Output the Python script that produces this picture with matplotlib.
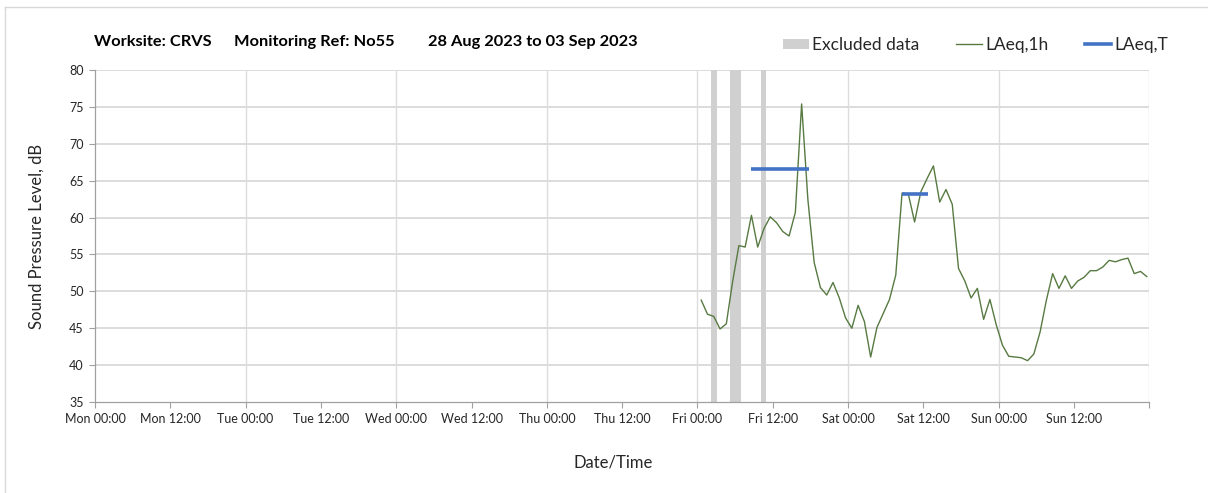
import matplotlib
matplotlib.use("Agg")
import matplotlib.pyplot as plt
from matplotlib.lines import Line2D
from matplotlib.patches import Patch

plt.rcParams['font.family'] = ['Lato', 'DejaVu Sans']

# ---- data ----
start_hour = 96.6  # hours after Mon 00:00 of first hourly value
laeq_1h = [48.8, 46.9, 46.6, 44.9, 45.6, 51.3, 56.2, 56.0, 60.3, 56.0,
           58.5, 60.1, 59.3, 58.1, 57.5, 60.7, 75.4, 62.4, 53.9, 50.5,
           49.5, 51.2, 49.1, 46.4, 45.0, 48.1, 45.9, 41.1, 45.1, 47.0,
           48.9, 52.2, 63.3, 63.2, 59.4, 63.5, 65.3, 67.0, 62.1, 63.8,
           61.8, 53.1, 51.4, 49.1, 50.4, 46.2, 48.9, 45.5, 42.7, 41.2,
           41.1, 41.0, 40.6, 41.5, 44.5, 48.8, 52.4, 50.4, 52.1, 50.4,
           51.4, 51.9, 52.8, 52.8, 53.3, 54.2, 54.0, 54.3, 54.5, 52.4,
           52.7, 52.0]
hours = [start_hour + i for i in range(len(laeq_1h))]

excl_start = [98.1, 101.2, 106.1]
excl_end = [99.1, 103.0, 107.0]

laeqT_start = [104.5, 128.6]
laeqT_end = [113.7, 132.7]
laeqT_val = [66.6, 63.2]

tick_hours = list(range(0, 169, 12))
tick_labels = ['Mon 00:00', 'Mon 12:00', 'Tue 00:00', 'Tue 12:00', 'Wed 00:00',
               'Wed 12:00', 'Thu 00:00', 'Thu 12:00', 'Fri 00:00', 'Fri 12:00',
               'Sat 00:00', 'Sat 12:00', 'Sun 00:00', 'Sun 12:00', '']
day_grid = list(range(24, 169, 24))
y_ticks = [35, 40, 45, 50, 55, 60, 65, 70, 75, 80]

title_parts = ['Worksite: CRVS', 'Monitoring Ref: No55', '28 Aug 2023 to 03 Sep 2023']

# ---- figure ----
W, H = 1208, 493
fig = plt.figure(figsize=(W / 100, H / 100), dpi=100)
ax = fig.add_axes([95 / W, 1 - 402 / H, (1149.3 - 95) / W, 332 / H])

green = '#577a42'
blue = '#4472c4'
grey_bar = '#d0d0d0'

for s, e in zip(excl_start, excl_end):
    ax.axvspan(s, e, color=grey_bar, lw=0, zorder=1)

for y in y_ticks[1:]:
    ax.axhline(y, color='#d9d9d9', lw=1.3, zorder=0)
for x in day_grid:
    ax.axvline(x, color='#dcdcdc', lw=1.0, zorder=0)

ax.plot(hours, laeq_1h, color=green, lw=1.0, zorder=3)
for s, e, v in zip(laeqT_start, laeqT_end, laeqT_val):
    ax.plot([s, e], [v, v], color=blue, lw=2.6, zorder=4, solid_capstyle='butt')

ax.set_xlim(0, 168)
ax.set_ylim(35, 80)
ax.set_xticks(tick_hours)
ax.set_xticklabels(tick_labels, fontsize=9, color='#262626')
ax.set_yticks(y_ticks)
ax.set_yticklabels([str(v) for v in y_ticks], fontsize=9, color='#262626')
ax.tick_params(axis='both', direction='out', length=4, width=0.8, color='#a0a0a0', pad=4)
for sp in ['top', 'right']:
    ax.spines[sp].set_visible(False)
for sp in ['left', 'bottom']:
    ax.spines[sp].set_color('#a0a0a0')
    ax.spines[sp].set_linewidth(0.9)

ax.set_ylabel('Sound Pressure Level, dB', fontsize=12, color='#262626', labelpad=18)
fig.text(613 / W, 1 - 462 / H, 'Date/Time', fontsize=12, color='#262626',
         ha='center', va='center')

for xp, txt in zip([94, 234, 428], title_parts):
    fig.text(xp / W, 1 - 42 / H, txt, fontsize=11.8, fontweight='bold',
             color='#000000', ha='left', va='center')

handles = [Patch(facecolor=grey_bar, edgecolor='none', label='Excluded data'),
           Line2D([0], [0], color=green, lw=1.0, label='LAeq,1h'),
           Line2D([0], [0], color=blue, lw=2.6, label='LAeq,T')]
fig.legend(handles=handles, loc='center right', bbox_to_anchor=(1184 / W, 1 - 45 / H),
           ncol=3, frameon=False, fontsize=12.5, handlelength=1.5, handleheight=0.5,
           handletextpad=0.2, columnspacing=2.1, labelcolor='#262626')

# outer frame (top and left only visible)
fig.add_artist(Line2D([5 / W, 1], [1 - 7 / H, 1 - 7 / H], color='#d9d9d9', lw=1.0))
fig.add_artist(Line2D([5 / W, 5 / W], [0, 1 - 7 / H], color='#d9d9d9', lw=1.0))

fig.savefig('out.png', dpi=100)
